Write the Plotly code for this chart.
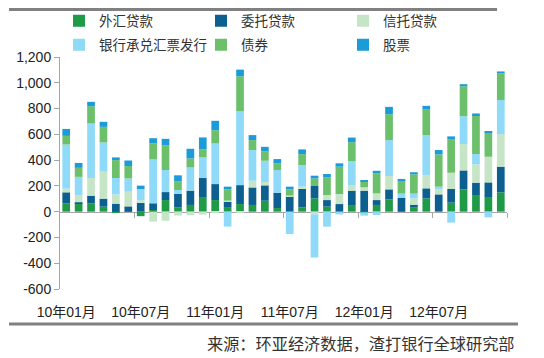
import plotly.graph_objects as go

months = [
    "10年01月", "10年02月", "10年03月", "10年04月", "10年05月", "10年06月",
    "10年07月", "10年08月", "10年09月", "10年10月", "10年11月", "10年12月",
    "11年01月", "11年02月", "11年03月", "11年04月", "11年05月", "11年06月",
    "11年07月", "11年08月", "11年09月", "11年10月", "11年11月", "11年12月",
    "12年01月", "12年02月", "12年03月", "12年04月", "12年05月", "12年06月",
    "12年07月", "12年08月", "12年09月", "12年10月", "12年11月", "12年12月",
]

fx_loans = [65, 65, 65, 39, -10, 3, -35, 13, 90, 34, 52, 108,
            90, 36, 59, 52, 85, 28, 5, 34, 103, 39, 5, 46,
            -5, 52, 95, 5, 31, 103, 0, 70, 173, 129, 108, 150]
entrusted_loans = [85, 8, 59, 62, 62, 38, 68, 52, 62, 103, 111, 153,
                   124, 41, 147, 136, 119, 119, 116, 142, 96, 51, 54, 117,
                   163, 38, 78, 101, 23, 78, 134, 106, 147, 96, 119, 199]
trust_loans = [30, 55, 137, 209, 72, 114, 20, -77, -70, -30, -28, -23,
               -8, 10, -5, 52, 26, 0, 5, 18, -21, 39, 78, 43,
               26, 52, 103, 0, 50, 103, 39, 126, 204, 142, 199, 253]
bank_acceptance = [341, 142, 423, 227, 127, 103, 88, 340, 171, 31, 180, 160,
                   315, -116, 573, 238, 165, 176, -173, 167, -335, -116, -21, 186,
                   -26, -26, 279, 34, 36, 310, 21, -85, 217, 80, -44, 264]
bonds = [67, 70, 134, 121, 139, 96, 0, 124, 191, 67, 70, 62,
         103, 85, 271, 77, 72, 51, 47, 85, 59, 137, 212, 147,
         48, 155, 201, 101, 150, 198, 250, 261, 232, 302, 189, 206]
equities = [54, 38, 34, 39, 21, 43, 26, 41, 51, 47, 75, 93,
            73, 22, 52, 39, 36, 34, 21, 37, 21, 26, 26, 36,
            8, 20, 57, 13, 16, 29, 34, 21, 16, 13, 10, 16]

series_names = ["外汇贷款", "委托贷款", "信托贷款", "银行承兑汇票发行", "债券", "股票"]
series_values = [fx_loans, entrusted_loans, trust_loans, bank_acceptance, bonds, equities]
series_colors = ["#1f9a47", "#0c5f8f", "#c6e5c7", "#8fd9f9", "#6cbf6b", "#1b9bd7"]
series_legend = ["legend", "legend", "legend", "legend2", "legend2", "legend2"]

x_tick_vals = ["10年01月", "10年07月", "11年01月", "11年07月", "12年01月", "12年07月"]
y_tick_vals = [-600, -400, -200, 0, 200, 400, 600, 800, 1000, 1200]
y_tick_text = ["-600", "-400", "-200", "0", "200", "400", "600", "800", "1,000", "1,200"]
boundary_ticks = [5.5, 11.5, 17.5, 23.5, 29.5, 35.5]

source_text = "来源：环亚经济数据，渣打银行全球研究部"

FONT = "Liberation Sans, Arial, Noto Sans CJK SC, sans-serif"
CJK = "Noto Sans CJK SC, sans-serif"

fig = go.Figure()
for name, vals, col, lg in zip(series_names, series_values, series_colors, series_legend):
    fig.add_trace(go.Bar(x=months, y=vals, name=name, marker_color=col,
                         marker_line_width=0, legend=lg))

# invisible helper trace for the zero-crossing category axis
fig.add_trace(go.Scatter(x=[-0.5, 35.5], y=[0, 0], xaxis="x2", mode="lines",
                         line=dict(width=0), showlegend=False, hoverinfo="skip"))

OFF = 8  # page body margin
W, H = 544, 358
pw, ph = 447, 232
L, T = 60 - OFF, 57 - OFF
R, B = W - L - pw, H - T - ph

def px_x(x):
    return (x - OFF - L) / pw

def px_y(y):
    return (H - B - (y - OFF)) / ph

fig.update_layout(
    width=W, height=H, autosize=False,
    margin=dict(l=L, r=R, t=T, b=B, autoexpand=False),
    paper_bgcolor="white", plot_bgcolor="white",
    barmode="relative", bargap=0.38,
    font=dict(family=FONT, size=14, color="#222222"),
    xaxis=dict(type="category", range=[-0.5, 35.5], tickmode="array",
               tickvals=x_tick_vals, ticktext=x_tick_vals, showline=False,
               ticks="", showgrid=False, zeroline=False, ticklabelstandoff=13,
               tickfont=dict(family=FONT, size=14, color="#222222")),
    xaxis2=dict(overlaying="x", anchor="free", position=1/3, range=[-0.5, 35.5],
                showline=True, linecolor="#a6a6a6", linewidth=1, ticks="outside",
                tickvals=boundary_ticks, ticklen=5, tickcolor="#a6a6a6",
                showticklabels=False, showgrid=False, zeroline=False,
                layer="below traces"),
    yaxis=dict(range=[-600, 1200], tickmode="array", tickvals=y_tick_vals,
               ticktext=y_tick_text, showline=True, linecolor="#a6a6a6",
               linewidth=1, ticks="outside", ticklen=5, tickcolor="#a6a6a6",
               showgrid=False, zeroline=False,
               tickfont=dict(family=FONT, size=14, color="#222222")),
    legend=dict(orientation="h", xref="container", yref="container",
                x=51 / W, y=1 - 13 / H, xanchor="left", yanchor="middle",
                entrywidth=97, entrywidthmode="pixels", itemwidth=30,
                font=dict(family=CJK, size=13.5, color="#333333"),
                bgcolor="rgba(0,0,0,0)"),
    legend2=dict(orientation="h", xref="container", yref="container",
                 x=51 / W, y=1 - 37 / H, xanchor="left", yanchor="middle",
                 entrywidth=97, entrywidthmode="pixels", itemwidth=30,
                 font=dict(family=CJK, size=13.5, color="#333333"),
                 bgcolor="rgba(0,0,0,0)"),
    showlegend=True,
)

# top rule (drawn as a thin filled annotation box so it is never dropped)
fig.add_annotation(text=" ", xref="paper", yref="paper",
                   x=px_x(9), y=px_y(10), xanchor="left", yanchor="middle",
                   width=488, height=3, bgcolor="#808080", borderpad=0,
                   borderwidth=0, showarrow=False, font=dict(size=1))
fig.add_shape(type="line", xref="paper", yref="paper",
              x0=px_x(9), x1=px_x(518), y0=px_y(324), y1=px_y(324),
              line=dict(color="#808080", width=3))
fig.add_annotation(text=source_text, xref="paper", yref="paper",
                   x=px_x(517), y=px_y(343), xanchor="right", yanchor="middle",
                   showarrow=False, font=dict(family=CJK, size=16.2, color="#333333"))

fig.write_html("out.html")
